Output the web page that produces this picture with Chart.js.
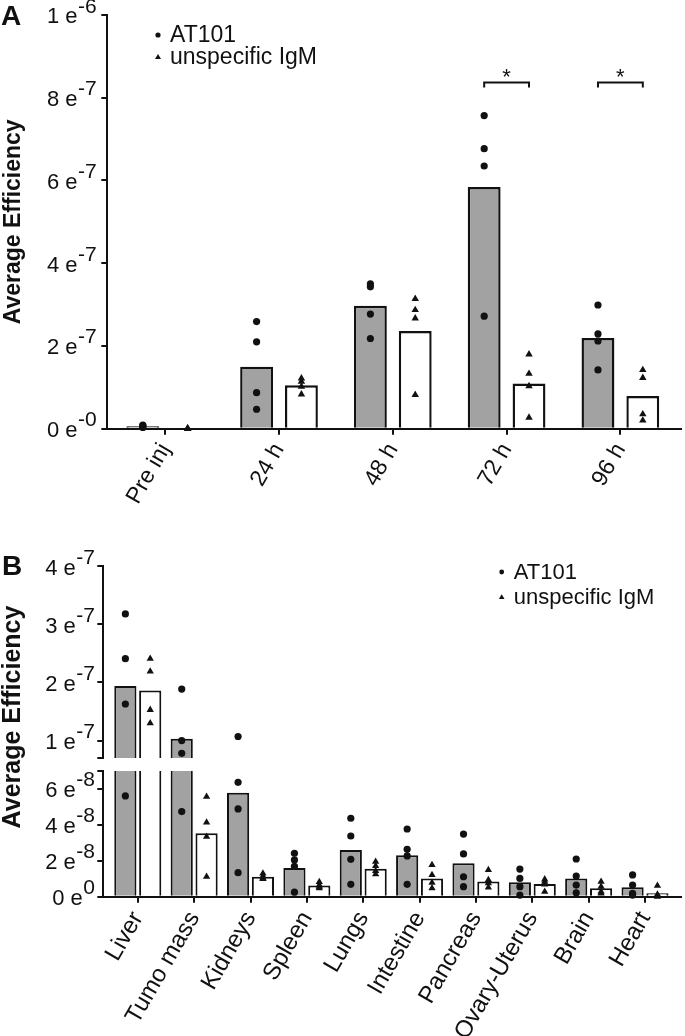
<!DOCTYPE html>
<html>
<head>
<meta charset="utf-8">
<script src="https://cdn.jsdelivr.net/npm/chart.js@4.4.1/dist/chart.umd.min.js"></script>
<style>
  body { margin: 0; background: #fff; }
  #wrap { position: relative; width: 685px; height: 1036px; }
  canvas { position: absolute; left: 0; }
</style>
</head>
<body>
<div id="wrap">
  <canvas id="chartA" width="685" height="540" style="top:0"></canvas>
  <canvas id="chartB1" width="685" height="496" style="top:540px"></canvas>
  <canvas id="chartB2" width="685" height="496" style="top:540px"></canvas>
</div>
<script>
// ---- Panel A : time course ----
const timePoints = ['Pre inj', '24 h', '48 h', '72 h', '96 h'];
const at101MeanA = [0.06e-7, 1.50e-7, 2.97e-7, 5.84e-7, 2.19e-7];
const igmMeanA   = [0, 1.05e-7, 2.36e-7, 1.09e-7, 0.79e-7];
const at101PtsA = [
  [0.09e-7, 0.07e-7, 0.05e-7, 0.03e-7],
  [2.59e-7, 2.10e-7, 0.87e-7, 0.47e-7],
  [3.50e-7, 3.43e-7, 2.77e-7, 2.18e-7],
  [7.57e-7, 6.77e-7, 6.35e-7, 2.72e-7],
  [2.99e-7, 2.29e-7, 2.12e-7, 1.42e-7]
];
const igmPtsA = [
  [0.01e-7, 0.005e-7, 0, 0],
  [1.22e-7, 1.14e-7, 1.02e-7, 0.83e-7],
  [3.14e-7, 2.87e-7, 2.67e-7, 0.82e-7],
  [1.80e-7, 1.33e-7, 1.03e-7, 0.27e-7],
  [1.42e-7, 1.23e-7, 0.35e-7, 0.20e-7]
];
const yTicksA  = [0, 2e-7, 4e-7, 6e-7, 8e-7, 1e-6];
const yLabelsA = ['0 e-0', '2 e-7', '4 e-7', '6 e-7', '8 e-7', '1 e-6'];
const sigIdxA = [3, 4];
const sigLevelA = 8.37e-7;

// ---- Panel B : organs (broken y axis) ----
const organs = ['Liver', 'Tumo mass', 'Kidneys', 'Spleen', 'Lungs', 'Intestine',
                'Pancreas', 'Ovary-Uterus', 'Brain', 'Heart'];
const at101MeanB = [1.94e-7, 1.03e-7, 5.79e-8, 1.60e-8, 2.60e-8, 2.31e-8, 1.86e-8, 0.80e-8, 1.02e-8, 0.52e-8];
const igmMeanB   = [1.86e-7, 3.53e-8, 1.11e-8, 0.63e-8, 1.56e-8, 1.02e-8, 0.84e-8, 0.71e-8, 0.47e-8, 0.19e-8];
const at101PtsB = [
  [3.18e-7, 2.41e-7, 1.63e-7, 5.61e-8],
  [1.886e-7, 1.00e-7, 0.78e-7, 4.74e-8],
  [1.07e-7, 6.37e-8, 4.89e-8, 1.34e-8],
  [2.42e-8, 2.05e-8, 1.69e-8, 0.25e-8],
  [4.37e-8, 3.38e-8, 2.08e-8, 0.69e-8],
  [3.77e-8, 2.64e-8, 2.27e-8, 0.69e-8],
  [3.49e-8, 2.38e-8, 1.11e-8, 0.56e-8],
  [1.54e-8, 1.02e-8, 0.56e-8, 0.09e-8],
  [2.10e-8, 1.15e-8, 0.65e-8, 0.22e-8],
  [1.21e-8, 0.65e-8, 0.19e-8, 0.09e-8]
];
const igmPtsB = [
  [2.41e-7, 2.19e-7, 1.53e-7, 1.30e-7],
  [5.57e-8, 4.14e-8, 3.34e-8, 1.11e-8],
  [1.30e-8, 1.14e-8, 1.03e-8, 0.99e-8],
  [0.82e-8, 0.65e-8, 0.56e-8, 0.47e-8],
  [1.95e-8, 1.71e-8, 1.43e-8, 1.25e-8],
  [1.77e-8, 1.21e-8, 0.78e-8, 0.47e-8],
  [1.49e-8, 0.93e-8, 0.75e-8, 0.52e-8],
  [0.97e-8, 0.84e-8, 0.69e-8, 0.28e-8],
  [0.84e-8, 0.56e-8, 0.28e-8, 0.19e-8],
  [0.61e-8, 0.13e-8, 0.04e-8, 0]
];
const breakB = 7e-8;
const topB = 4e-7;
const yTicksBUp   = [7e-8, 1e-7, 2e-7, 3e-7, 4e-7];
const yLabelsBUp  = ['', '1 e-7', '2 e-7', '3 e-7', '4 e-7'];
const yTicksBLow  = [0, 2e-8, 4e-8, 6e-8, 7e-8];
const yLabelsBLow = ['0 e0', '2 e-8', '4 e-8', '6 e-8', ''];

const seriesNames = ['AT101', 'unspecific IgM'];

const INK = '#111';
const GREY = '#a2a2a2';
const FONT = '"Liberation Sans", Arial, Helvetica, sans-serif';

function barData(means) {
  return means.map((v, i) => ({ x: i, y: v }));
}

// replicate points sit over their bar: bar centre = index +/- categoryPercentage/4
function pointData(groups, side, catPct, lo, hi) {
  const out = [];
  groups.forEach((vals, i) => {
    vals.forEach(v => {
      if (v >= lo && v < hi) out.push({ x: i + side * catPct / 4, y: v });
    });
  });
  return out;
}

function makeDatasets(meanAt, meanIgm, ptsAt, ptsIgm, catPct, barPct, lo, hi, bw, rDot, rTri) {
  return [
    { type: 'scatter', label: seriesNames[0], data: pointData(ptsAt, -1, catPct, lo, hi),
      pointStyle: 'circle', radius: rDot, backgroundColor: INK, borderWidth: 0, clip: false },
    { type: 'scatter', label: seriesNames[1], data: pointData(ptsIgm, 1, catPct, lo, hi),
      pointStyle: 'triangle', radius: rTri, backgroundColor: INK, borderWidth: 0, clip: false },
    { type: 'bar', label: seriesNames[0], data: barData(meanAt), backgroundColor: GREY,
      borderColor: INK, borderWidth: bw, categoryPercentage: catPct, barPercentage: barPct, clip: 0 },
    { type: 'bar', label: seriesNames[1], data: barData(meanIgm), backgroundColor: '#fff',
      borderColor: INK, borderWidth: bw, categoryPercentage: catPct, barPercentage: barPct, clip: 0 }
  ];
}

// y tick labels written as "8 e-7" with a raised exponent
function sciLabels(ticks, labels, gap, size, expSize) {
  return {
    id: 'sciLabels',
    afterDraw(chart) {
      const ctx = chart.ctx, ys = chart.scales.y;
      ctx.save();
      ctx.fillStyle = INK;
      ctx.textAlign = 'right';
      ctx.textBaseline = 'alphabetic';
      ticks.forEach((v, i) => {
        const lab = labels[i];
        if (!lab) return;
        const parts = lab.split('e');
        const py = ys.getPixelForValue(v);
        const xr = ys.right - gap;
        ctx.font = expSize + 'px ' + FONT;
        ctx.fillText(parts[1], xr, py - 2.5);
        const ew = ctx.measureText(parts[1]).width;
        ctx.font = size + 'px ' + FONT;
        ctx.fillText(parts[0] + 'e', xr - ew - 0.5, py + 8.3);
      });
      ctx.restore();
    }
  };
}

function drawLegend(ctx, x, y0, dy, size, rDot, tri) {
  ctx.save();
  ctx.fillStyle = INK;
  ctx.beginPath();
  ctx.arc(x, y0 - 7, rDot, 0, Math.PI * 2);
  ctx.fill();
  const ty = y0 + dy - 7;
  ctx.beginPath();
  ctx.moveTo(x, ty - tri);
  ctx.lineTo(x + tri, ty + tri * 0.7);
  ctx.lineTo(x - tri, ty + tri * 0.7);
  ctx.closePath();
  ctx.fill();
  ctx.font = size + 'px ' + FONT;
  ctx.textAlign = 'left';
  ctx.textBaseline = 'alphabetic';
  ctx.fillText(seriesNames[0], x + 12, y0);
  ctx.fillText(seriesNames[1], x + 12, y0 + dy);
  ctx.restore();
}

function letter(ctx, t, x, y) {
  ctx.save();
  ctx.fillStyle = INK;
  ctx.font = 'bold 28px ' + FONT;
  ctx.textAlign = 'left';
  ctx.fillText(t, x, y);
  ctx.restore();
}

function xAxis(cats, min, max, height, fontSize, show) {
  return {
    type: 'linear', min: min, max: max, offset: false, display: show,
    grid: { offset: false, drawOnChartArea: false, drawTicks: true, tickLength: 6, color: INK, lineWidth: 2 },
    border: { display: true, color: INK, width: 2 },
    ticks: { autoSkip: false, minRotation: 60, maxRotation: 60, padding: 4, color: INK,
             font: { family: FONT, size: fontSize }, callback: (v, i) => cats[i] },
    afterBuildTicks: s => { s.ticks = cats.map((_, i) => ({ value: i })); },
    afterFit: s => { s.height = height; s.paddingLeft = 0; s.paddingRight = 0; }
  };
}

function yAxis(min, max, ticks, width, title) {
  return {
    min: min, max: max,
    grid: { drawOnChartArea: false, drawTicks: true, tickLength: 6, color: INK, lineWidth: 2 },
    border: { display: true, color: INK, width: 2 },
    ticks: { display: false },
    title: title,
    afterBuildTicks: s => { s.ticks = ticks.map(v => ({ value: v })); },
    afterFit: s => { s.width = width; s.paddingTop = 0; s.paddingBottom = 0; }
  };
}

const baseOpts = {
  responsive: false,
  animation: false,
  events: [],
  devicePixelRatio: 1
};

// ---- Chart A ----
const catPctA = 0.788, barPctA = 0.733;
new Chart(document.getElementById('chartA'), {
  type: 'bar',
  data: { datasets: makeDatasets(at101MeanA, igmMeanA, at101PtsA, igmPtsA, catPctA, barPctA, -1, 1, 2.4, 3.6, 4.3) },
  options: Object.assign({}, baseOpts, {
    layout: { padding: { top: 15, right: 2, left: 0, bottom: 0 } },
    plugins: { legend: { display: false }, tooltip: { enabled: false } },
    scales: {
      x: xAxis(timePoints, -0.509, 4.53, 540 - 428.7, 23, true),
      y: yAxis(0, 1e-6, yTicksA, 107.3,
        { display: true, text: 'Average Efficiency', color: INK, padding: 0,
          font: { family: FONT, size: 23, weight: 'bold' } })
    }
  }),
  plugins: [
    sciLabels(yTicksA, yLabelsA, 10.6, 22, 21),
    {
      id: 'extrasA',
      afterDraw(chart) {
        const ctx = chart.ctx, xs = chart.scales.x, ys = chart.scales.y;
        ctx.save();
        ctx.strokeStyle = INK;
        ctx.lineWidth = 2;
        ctx.fillStyle = INK;
        ctx.font = '22px ' + FONT;
        ctx.textAlign = 'center';
        sigIdxA.forEach(i => {
          const x1 = xs.getPixelForValue(i - catPctA / 4);
          const x2 = xs.getPixelForValue(i + catPctA / 4);
          const yb = ys.getPixelForValue(sigLevelA);
          ctx.beginPath();
          ctx.moveTo(x1, yb + 5);
          ctx.lineTo(x1, yb);
          ctx.lineTo(x2, yb);
          ctx.lineTo(x2, yb + 5);
          ctx.stroke();
          ctx.fillText('*', (x1 + x2) / 2, yb + 1.5);
        });
        ctx.restore();
        drawLegend(ctx, 158, 42, 22, 23, 2.6, 3);
        letter(ctx, 'A', 1, 25);
      }
    }
  ]
});

// ---- Chart B (upper and lower segments of the broken axis) ----
const catPctB = 0.882, barPctB = 0.892;
new Chart(document.getElementById('chartB1'), {
  type: 'bar',
  data: { datasets: makeDatasets(at101MeanB, igmMeanB, at101PtsB, igmPtsB, catPctB, barPctB, breakB, 1, 2, 3.6, 4.2) },
  options: Object.assign({}, baseOpts, {
    layout: { padding: { top: 26.3, right: 1, left: 0, bottom: 278 } },
    plugins: { legend: { display: false }, tooltip: { enabled: false } },
    scales: {
      x: xAxis(organs, -0.612, 9.635, 0, 24, false),
      y: yAxis(breakB, topB, yTicksBUp, 103.3, { display: false })
    }
  }),
  plugins: [
    sciLabels(yTicksBUp, yLabelsBUp, 8.3, 22, 21),
    {
      id: 'extrasB',
      afterDraw(chart) {
        const ctx = chart.ctx;
        drawLegend(ctx, 501.7, 39, 25, 22, 2.4, 2.8);
        letter(ctx, 'B', 2, 35);
        ctx.save();
        ctx.translate(13, 177);
        ctx.rotate(-Math.PI / 2);
        ctx.fillStyle = INK;
        ctx.font = 'bold 25px ' + FONT;
        ctx.textAlign = 'center';
        ctx.textBaseline = 'middle';
        ctx.fillText('Average Efficiency', 0, 0);
        ctx.restore();
      }
    }
  ]
});

new Chart(document.getElementById('chartB2'), {
  type: 'bar',
  data: { datasets: makeDatasets(at101MeanB, igmMeanB, at101PtsB, igmPtsB, catPctB, barPctB, -1, breakB, 2, 3.6, 4.2) },
  options: Object.assign({}, baseOpts, {
    layout: { padding: { top: 231, right: 1, left: 0, bottom: 0 } },
    plugins: { legend: { display: false }, tooltip: { enabled: false } },
    scales: {
      x: xAxis(organs, -0.612, 9.635, 496 - 356.7, 24, true),
      y: yAxis(0, breakB, yTicksBLow, 103.3, { display: false })
    }
  }),
  plugins: [sciLabels(yTicksBLow, yLabelsBLow, 8.3, 22, 21)]
});
</script>
</body>
</html>
